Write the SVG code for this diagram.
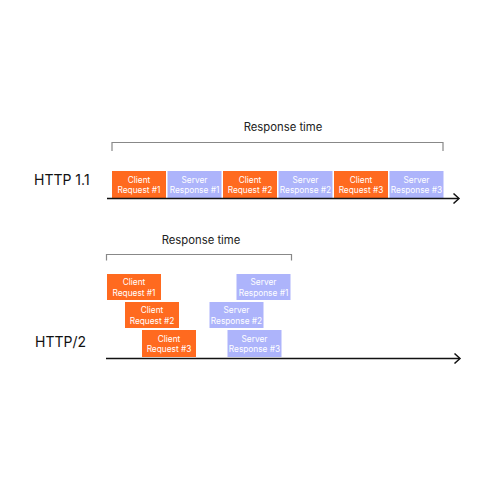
<svg xmlns="http://www.w3.org/2000/svg" width="500" height="500" viewBox="0 0 500 500">
<style>
.bg{fill:#ffffff}
.client rect{fill:#FF6A1F}
.server rect{fill:#ADB4FB}
.box text{fill:#ffffff;font-family:Inter,"Liberation Sans",sans-serif;font-size:8.3px;text-anchor:middle}
.lbl{fill:#111111;font-family:Inter,"Liberation Sans",sans-serif;font-size:14px}
.rt{fill:#222222;font-family:Inter,"Liberation Sans",sans-serif;font-size:11.3px;text-anchor:middle}
.axis{stroke:#111111;stroke-width:1.6;fill:none}
.bracket{stroke:#888888;stroke-width:1.2;fill:none}
.head{stroke:#111111;stroke-width:1.5;fill:none}
</style>
<rect class="bg" x="0" y="0" width="500" height="500"/>
<text class="lbl" x="34" y="185">HTTP 1.1</text>
<text class="lbl" x="35" y="347">HTTP/2</text>
<text class="rt" x="283" y="131">Response time</text>
<text class="rt" x="201" y="244">Response time</text>
<g id="row1-client1" class="box client"><rect x="112" y="171" width="54" height="27"/><text x="139" y="182.5">Client</text><text x="139" y="193">Request #1</text></g>
<g id="row1-server1" class="box server"><rect x="167.5" y="171" width="54" height="27"/><text x="194.5" y="182.5">Server</text><text x="194.5" y="193">Response #1</text></g>
<g id="row1-client2" class="box client"><rect x="223" y="171" width="54" height="27"/><text x="250" y="182.5">Client</text><text x="250" y="193">Request #2</text></g>
<g id="row1-server2" class="box server"><rect x="278.5" y="171" width="54" height="27"/><text x="305.5" y="182.5">Server</text><text x="305.5" y="193">Response #2</text></g>
<g id="row1-client3" class="box client"><rect x="334" y="171" width="54" height="27"/><text x="361" y="182.5">Client</text><text x="361" y="193">Request #3</text></g>
<g id="row1-server3" class="box server"><rect x="389.5" y="171" width="54" height="27"/><text x="416.5" y="182.5">Server</text><text x="416.5" y="193">Response #3</text></g>
<g id="row2-client1" class="box client"><rect x="107" y="274" width="54" height="26"/><text x="134" y="285">Client</text><text x="134" y="295.5">Request #1</text></g>
<g id="row2-client2" class="box client"><rect x="125" y="302" width="54" height="26"/><text x="152" y="313">Client</text><text x="152" y="323.5">Request #2</text></g>
<g id="row2-client3" class="box client"><rect x="142" y="330" width="54" height="27"/><text x="169" y="341.5">Client</text><text x="169" y="352">Request #3</text></g>
<g id="row2-server1" class="box server"><rect x="236.5" y="274" width="54" height="26"/><text x="263.5" y="285">Server</text><text x="263.5" y="295.5">Response #1</text></g>
<g id="row2-server2" class="box server"><rect x="209.5" y="302" width="54" height="26"/><text x="236.5" y="313">Server</text><text x="236.5" y="323.5">Response #2</text></g>
<g id="row2-server3" class="box server"><rect x="227.5" y="330" width="54" height="27"/><text x="254.5" y="341.5">Server</text><text x="254.5" y="352">Response #3</text></g>
<g id="connectors">
<path class="bracket" d="M112,151 V142.5 H443 V151"/>
<path class="bracket" d="M106.5,260.5 V254.5 H291.5 V260.5"/>
<path class="axis" d="M107,198.5 H458"/>
<path class="head" d="M453.5,193.5 L459,198.5 L453.5,203.5"/>
<path class="axis" d="M106,358.5 H459"/>
<path class="head" d="M454.5,353.5 L460,358.5 L454.5,363.5"/>
</g>
</svg>
